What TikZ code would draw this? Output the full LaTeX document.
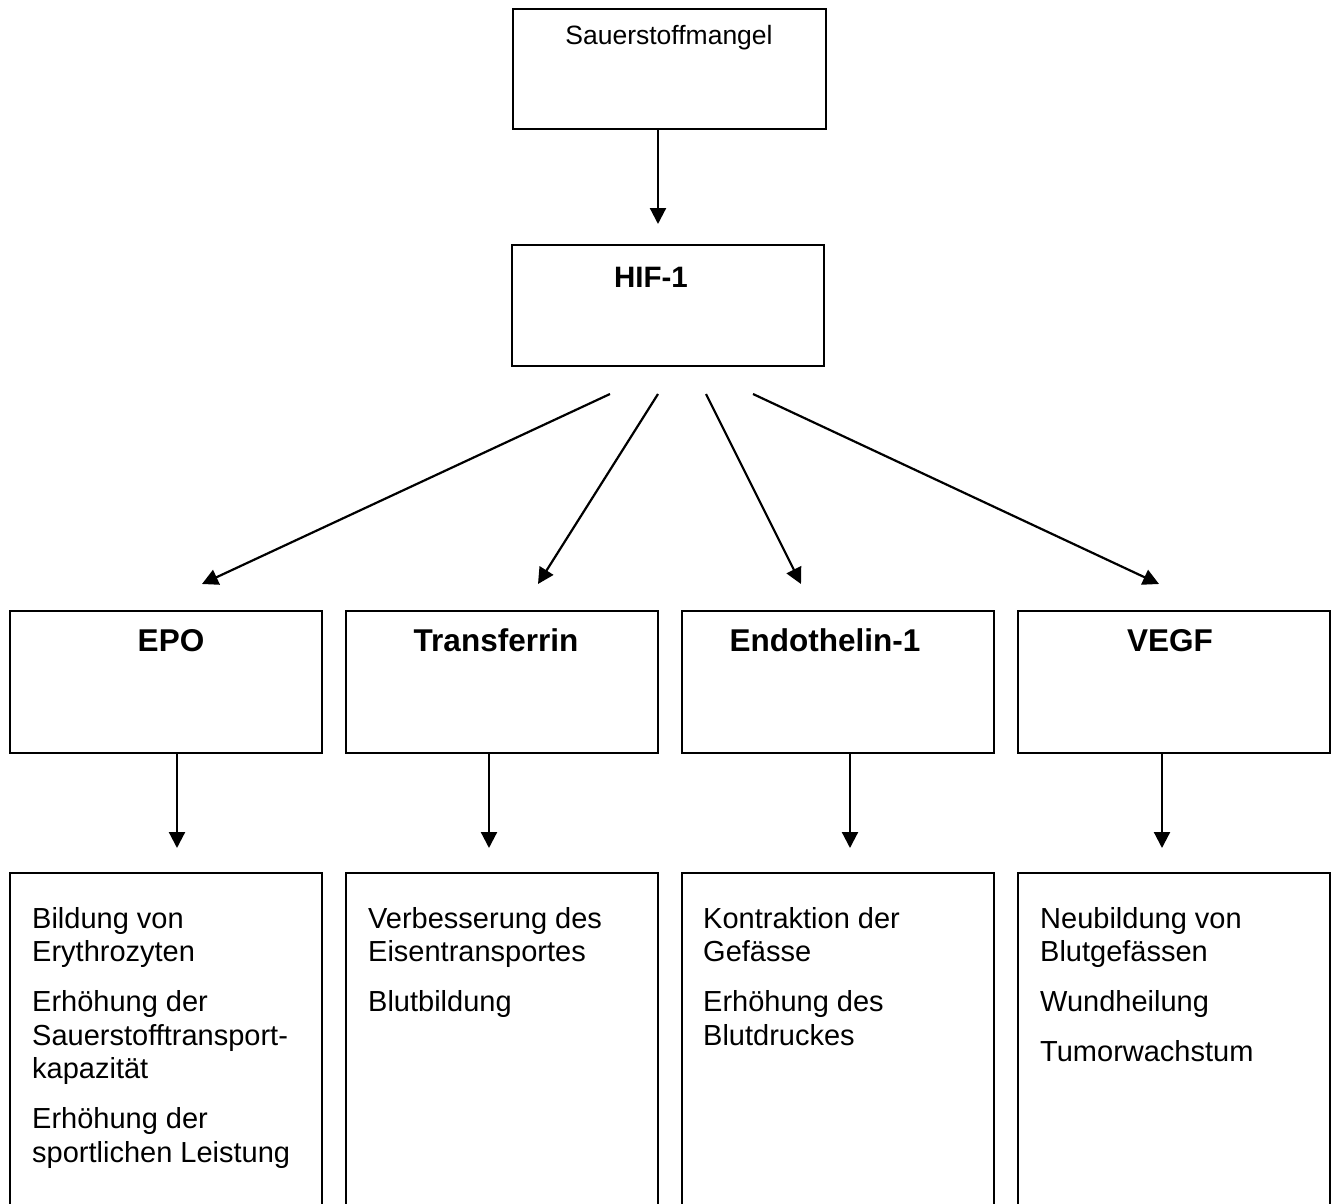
\documentclass[tikz,border=0pt]{standalone}
\usepackage{fontspec}
\setmainfont{Liberation Sans}
\usetikzlibrary{arrows.meta}
\begin{document}
\begin{tikzpicture}[x=1pt,y=-1pt,
  box/.style={draw,line width=2pt,inner sep=0pt,minimum width=312pt},
  arr/.style={line width=2.2pt,-{Triangle[width=16pt,length=16pt]}},
  title/.style={font=\fontsize{31.5}{36}\selectfont\bfseries,anchor=base,inner sep=0pt},
  body/.style={anchor=base west,inner sep=0pt},
]
\useasboundingbox (0,0) rectangle (1334,1204);
\newcommand\bodytext[1]{\parbox[t]{300pt}{\fontsize{29}{33.5}\selectfont\raggedright\setlength{\parskip}{16.5pt}#1}}

% top boxes
\node[box,minimum width=313pt,minimum height=120pt] (sauer) at (669.5,69) {};
\node[font=\fontsize{26.5}{30}\selectfont,anchor=base,inner sep=0pt] (sauerT) at (669,45) {Sauerstoffmangel};
\node[box,minimum height=121pt] (hif) at (668,305.5) {};
\node[title,font=\fontsize{29.5}{34}\selectfont\bfseries] (hifT) at (651,287) {HIF-1};

% row 2
\node[box,minimum height=142pt] (epo) at (166,682) {};
\node[box,minimum height=142pt] (trf) at (502,682) {};
\node[box,minimum height=142pt] (end) at (838,682) {};
\node[box,minimum height=142pt] (vegf) at (1174,682) {};
\node[title] (epoT) at (171,651) {EPO};
\node[title] (trfT) at (496,651) {Transferrin};
\node[title] (endT) at (825,651) {Endothelin-1};
\node[title] (vegfT) at (1170,651) {VEGF};

% row 3 (boxes run past the bottom edge)
\node[box,minimum height=351pt] (epoR) at (166,1048.5) {};
\node[box,minimum height=351pt] (trfR) at (502,1048.5) {};
\node[box,minimum height=351pt] (endR) at (838,1048.5) {};
\node[box,minimum height=351pt] (vegfR) at (1174,1048.5) {};

\node[body] (epoB) at (32,928) {\bodytext{Bildung von\\Erythrozyten\par
Erhöhung der\\Sauerstofftransport-\\kapazität\par
Erhöhung der\\sportlichen Leistung}};
\node[body] (trfB) at (368,928) {\bodytext{Verbesserung des\\Eisentransportes\par
Blutbildung}};
\node[body] (endB) at (703,928) {\bodytext{Kontraktion der\\Gefässe\par
Erhöhung des\\Blutdruckes}};
\node[body] (vegfB) at (1040,928) {\bodytext{Neubildung von\\Blutgefässen\par
Wundheilung\par
Tumorwachstum}};

% connectors
\draw[arr,shorten >=20pt] ([xshift=-11.5pt]sauer.south) -- ([xshift=-11.5pt]sauer.south |- hif.north);

\draw[arr] ([shift={(-58,27)}]hif.south) -- ([shift={(36,-26)}]epo.north);
\draw[arr] ([shift={(-10,27)}]hif.south) -- ([shift={(36,-26)}]trf.north);
\draw[arr] ([shift={(38,27)}]hif.south) -- ([shift={(-37,-26)}]end.north);
\draw[arr] ([shift={(85,27)}]hif.south) -- ([shift={(-15,-26)}]vegf.north);

\draw[arr,shorten >=24pt] ([xshift=11pt]epo.south) -- ([xshift=11pt]epo.south |- epoR.north);
\draw[arr,shorten >=24pt] ([xshift=-13pt]trf.south) -- ([xshift=-13pt]trf.south |- trfR.north);
\draw[arr,shorten >=24pt] ([xshift=12pt]end.south) -- ([xshift=12pt]end.south |- endR.north);
\draw[arr,shorten >=24pt] ([xshift=-12pt]vegf.south) -- ([xshift=-12pt]vegf.south |- vegfR.north);
\end{tikzpicture}
\end{document}
